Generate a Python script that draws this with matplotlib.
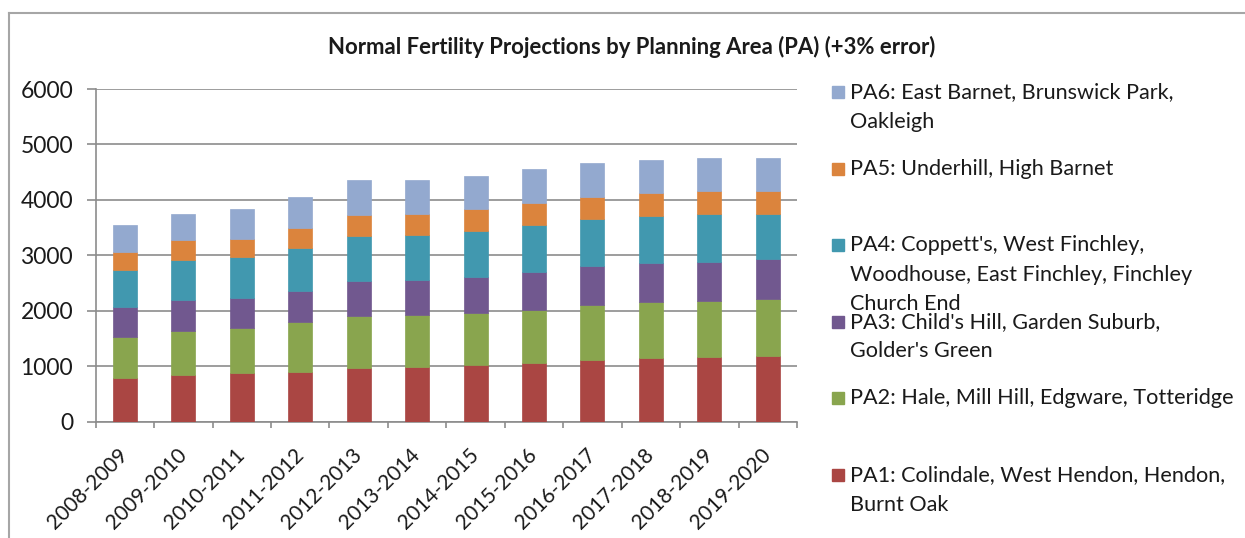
import matplotlib
matplotlib.use("Agg")
import matplotlib.pyplot as plt
from matplotlib.patches import Rectangle
from matplotlib.lines import Line2D
import numpy as np

plt.rcParams['font.family'] = ['Lato', 'DejaVu Sans']

# data
years = ["2008-2009", "2009-2010", "2010-2011", "2011-2012", "2012-2013", "2013-2014",
         "2014-2015", "2015-2016", "2016-2017", "2017-2018", "2018-2019", "2019-2020"]
pa1 = [789, 831, 873, 898, 958, 982, 1018, 1060, 1102, 1145, 1163, 1187]
pa2 = [729, 796, 814, 897, 946, 934, 940, 958, 994, 1018, 1018, 1018]
pa3 = [542, 560, 542, 554, 632, 638, 656, 681, 705, 698, 705, 723]
pa4 = [681, 735, 741, 784, 807, 807, 826, 849, 850, 850, 867, 825]
pa5 = [325, 349, 331, 355, 392, 392, 391, 386, 409, 409, 410, 410]
pa6 = [476, 482, 536, 572, 620, 602, 597, 614, 597, 597, 596, 596]

labels = ["PA1: Colindale, West Hendon, Hendon,\nBurnt Oak",
          "PA2: Hale, Mill Hill, Edgware, Totteridge",
          "PA3: Child's Hill, Garden Suburb,\nGolder's Green",
          "PA4: Coppett's, West Finchley,\nWoodhouse, East Finchley, Finchley\nChurch End",
          "PA5: Underhill, High Barnet",
          "PA6: East Barnet, Brunswick Park,\nOakleigh"]
colors = ["#AA4643", "#89A54E", "#71588F", "#4198AF", "#DB843D", "#93A9CF"]

series = [pa1, pa2, pa3, pa4, pa5, pa6]
W, H = 1245, 538
txt = "#1a1a1a"
grid = "#8c8c8c"

fig = plt.figure(figsize=(W / 100, H / 100), dpi=100)
ax = fig.add_axes([95.7 / W, 116.5 / H, (797 - 95.7) / W, (449 - 116.5) / H])

x = np.arange(len(years))
bottom = np.zeros(len(years))
for vals, c in zip(series, colors):
    ax.bar(x, vals, 0.41, bottom=bottom, color=c, edgecolor=c, linewidth=0.5, zorder=3)
    bottom += np.array(vals)

ax.set_xlim(-0.5, len(years) - 0.5)
ax.set_ylim(0, 6000)
ax.set_yticks(range(0, 6001, 1000))
ax.yaxis.grid(True, color=grid, linewidth=1.2, zorder=0)
ax.tick_params(axis='y', length=6.3, width=1.2, color=grid, pad=10, labelsize=16.5, labelcolor=txt)

ax.set_xticks(x)
ax.set_xticklabels(years, rotation=45, ha='right', va='center', rotation_mode='anchor',
                   fontsize=15, color=txt)
ax.tick_params(axis='x', length=0, pad=22)
ax.set_xticks(np.arange(-0.5, len(years), 1), minor=True)
ax.tick_params(axis='x', which='minor', length=4, width=1.2, color=grid)

for s in ['top', 'right']:
    ax.spines[s].set_visible(False)
for s in ['left', 'bottom']:
    ax.spines[s].set_color(grid)
    ax.spines[s].set_linewidth(1.2)

fig.text(632 / W, 1 - 47 / H, "Normal Fertility Projections by Planning Area (PA) (+3% error)",
         ha='center', va='center', fontsize=15.9, fontweight='bold', color=txt)

# legend drawn by hand, top entry first like the reference
y0, step = 92, 76.6
for i, k in enumerate(range(len(series) - 1, -1, -1)):
    yc = y0 + i * step
    fig.patches.append(Rectangle((832 / W, 1 - (yc + 6) / H), 12 / W, 12 / H,
                                 transform=fig.transFigure, color=colors[k]))
    fig.text(850 / W, 1 - (yc - 10) / H, labels[k], ha='left', va='top',
             fontsize=15.6, color=txt, linespacing=1.6)

# chart frame
fig.lines.append(Line2D([9 / W, 1], [1 - 13 / H, 1 - 13 / H], transform=fig.transFigure,
                        color="#a6a6a6", linewidth=1.5))
fig.lines.append(Line2D([9 / W, 9 / W], [0, 1 - 13 / H], transform=fig.transFigure,
                        color="#a6a6a6", linewidth=1.5))

fig.savefig("out.png", dpi=100)
